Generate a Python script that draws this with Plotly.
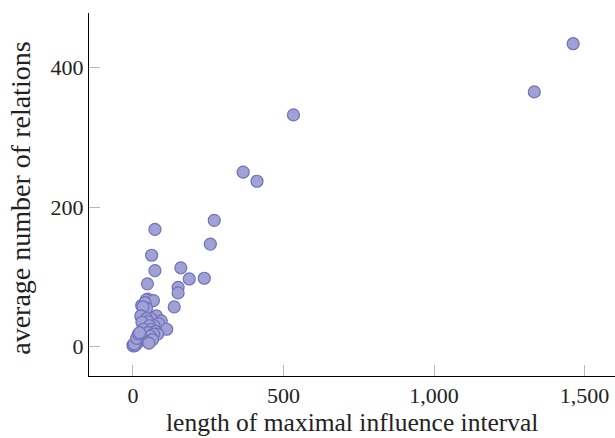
import plotly.graph_objects as go

interval_length = [1462, 1333, 533, 366, 412, 270, 257, 73, 62, 159, 73, 187, 237, 48, 150, 150, 137,
                   49, 44, 68, 29, 40, 45, 33,
                   78, 26, 60, 45, 50, 94, 85, 70, 40, 30, 55, 35, 62, 112, 75, 82, 50, 68, 25, 45,
                   58, 20, 35, 55, 65, 15, 10, 53, 5, 0, 2, 8, 4, 12, 18, 22]
avg_relations = [434, 365, 332, 250, 237, 181, 147, 168, 131, 113, 109, 97, 98, 90, 85, 77, 57,
                 68, 67, 66, 59, 63, 55, 57,
                 44, 44, 40, 40, 36, 37, 33, 30, 30, 35, 30, 25, 25, 25, 22, 18, 20, 18, 15, 12,
                 15, 10, 10, 8, 10, 6, 5, 5, 3, 2, 1, 2, 4, 12, 18, 20]

x_ticks = [0, 500, 1000, 1500]
x_tick_labels = ["0", "500", "1,000", "1,500"]
y_ticks = [0, 200, 400]
y_tick_labels = ["0", "200", "400"]
x_title = "length of maximal influence interval"
y_title = "average number of relations"

family = "Liberation Serif, DejaVu Serif, serif"
tick_font = dict(family=family, size=22, color="#222222")
xtitle_font = dict(family=family, size=25.5, color="#222222")
ytitle_font = dict(family=family, size=28, color="#222222")

fig = go.Figure(go.Scatter(
    x=interval_length, y=avg_relations, mode="markers",
    marker=dict(size=12, color="rgb(160,161,212)",
                line=dict(color="rgb(112,114,186)", width=1.2)),
    showlegend=False,
))

fig.update_layout(
    width=615, height=438,
    margin=dict(l=89, r=0, t=13, b=62),
    paper_bgcolor="white", plot_bgcolor="white",
    font=tick_font,
    xaxis=dict(range=[-146, 1601], tickvals=x_ticks, ticktext=x_tick_labels,
               showgrid=False, zeroline=False, showline=True, linecolor="black", linewidth=1,
               ticks="inside", ticklen=11, tickcolor="#b8b8b8", tickwidth=1,
               automargin=False, tickfont=tick_font),
    yaxis=dict(range=[-42, 478], tickvals=y_ticks, ticktext=y_tick_labels,
               showgrid=False, zeroline=False, showline=True, linecolor="black", linewidth=1,
               ticks="inside", ticklen=11, tickcolor="#b8b8b8", tickwidth=1,
               automargin=False, tickfont=tick_font),
    annotations=[
        dict(text=x_title, xref="paper", yref="paper", x=0.5, y=-0.128,
             xanchor="center", yanchor="middle", showarrow=False, font=xtitle_font),
        dict(text=y_title, xref="paper", yref="paper", x=-0.130, y=0.49,
             xanchor="center", yanchor="middle", textangle=-90, showarrow=False, font=ytitle_font),
    ],
)

fig.write_html("out.html", config={"displayModeBar": False},
               post_script="document.body.style.margin='0';document.body.style.overflow='hidden';")
